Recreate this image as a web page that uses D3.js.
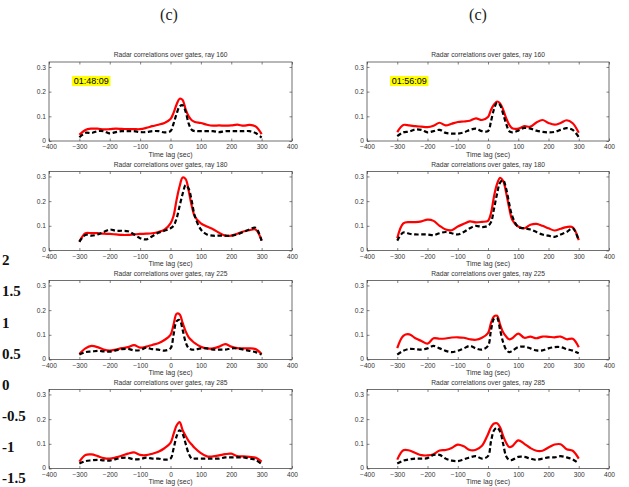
<!DOCTYPE html>
<html>
<head>
<meta charset="utf-8">
<script src="https://cdn.jsdelivr.net/npm/d3@7"></script>
<style>
  body { margin: 0; background: #fff; }
  svg { display: block; }
</style>
</head>
<body>
<div id="frame1"></div>
<script>
// lags (sec) shared by every curve
const lags = [-300, -280, -260, -240, -220, -200, -180, -160, -140, -120, -100, -80, -60, -40, -20,
              0, 10, 20, 30, 40, 50, 60, 70, 80, 100, 120, 140, 160, 180, 200, 220, 240, 260, 280, 300];

// left column (01:48:09)
const red160a = [.025,.045,.05,.05,.047,.048,.05,.049,.048,.048,.048,.053,.06,.066,.073,.089,.114,.148,.171,.166,.127,.1,.084,.077,.073,.066,.062,.063,.062,.063,.066,.062,.065,.059,.028];
const blk160a = [.015,.033,.032,.04,.04,.031,.036,.04,.04,.04,.036,.036,.04,.04,.035,.04,.07,.11,.14,.145,.118,.07,.045,.04,.04,.04,.04,.036,.04,.04,.04,.04,.04,.032,.014];
const red180a = [.036,.07,.07,.07,.068,.067,.065,.063,.063,.065,.067,.068,.07,.075,.084,.11,.14,.205,.26,.296,.289,.241,.18,.138,.11,.097,.086,.072,.06,.06,.068,.077,.082,.085,.04];
const blk180a = [.035,.063,.06,.065,.075,.085,.08,.08,.078,.065,.05,.045,.058,.072,.08,.09,.1,.13,.18,.23,.265,.25,.2,.14,.085,.065,.06,.06,.06,.06,.065,.075,.085,.092,.04];
const red225a = [.022,.045,.055,.05,.04,.036,.04,.046,.05,.058,.048,.052,.059,.066,.079,.1,.141,.185,.183,.148,.114,.09,.077,.066,.052,.045,.045,.052,.062,.052,.046,.045,.045,.042,.022];
const blk225a = [.02,.03,.032,.035,.033,.032,.037,.042,.043,.037,.038,.048,.042,.04,.036,.045,.1,.155,.16,.12,.07,.045,.04,.04,.045,.045,.04,.04,.04,.045,.045,.04,.035,.03,.02];
const red285a = [.028,.055,.057,.05,.042,.04,.045,.052,.06,.065,.055,.054,.06,.068,.082,.104,.139,.174,.188,.155,.132,.111,.097,.083,.062,.049,.049,.053,.058,.06,.05,.049,.047,.044,.028];
const blk285a = [.02,.03,.033,.035,.033,.032,.038,.043,.043,.037,.038,.044,.04,.04,.036,.04,.08,.13,.155,.14,.1,.06,.04,.04,.04,.04,.04,.04,.045,.045,.045,.045,.04,.035,.018];

// right column (01:56:09)
const red160b = [.036,.065,.063,.06,.058,.056,.062,.074,.063,.07,.077,.079,.082,.092,.085,.097,.127,.148,.16,.152,.127,.093,.066,.052,.05,.06,.058,.075,.085,.073,.066,.073,.084,.072,.033];
const blk160b = [.02,.035,.038,.047,.045,.035,.04,.045,.033,.03,.03,.035,.045,.05,.04,.04,.08,.13,.155,.145,.11,.07,.04,.035,.042,.053,.05,.042,.037,.035,.037,.045,.052,.045,.016];
const red180b = [.05,.11,.115,.115,.118,.125,.12,.1,.085,.082,.097,.108,.118,.114,.116,.12,.152,.22,.27,.294,.282,.234,.173,.125,.097,.09,.104,.108,.1,.09,.081,.088,.095,.094,.042];
const blk180b = [.04,.073,.068,.065,.065,.065,.062,.07,.075,.07,.065,.075,.09,.1,.095,.1,.115,.17,.23,.275,.285,.25,.19,.14,.095,.09,.085,.075,.065,.06,.055,.065,.075,.09,.04];
const red225b = [.046,.096,.102,.086,.075,.064,.086,.084,.085,.089,.09,.088,.082,.08,.088,.107,.148,.175,.177,.141,.11,.093,.082,.086,.105,.088,.093,.086,.093,.092,.09,.093,.082,.084,.05];
const blk225b = [.02,.035,.043,.042,.04,.045,.055,.045,.035,.03,.035,.045,.055,.045,.04,.055,.12,.165,.168,.12,.07,.04,.03,.035,.05,.052,.045,.037,.037,.045,.05,.05,.042,.036,.025];
const red285b = [.036,.074,.073,.063,.054,.053,.058,.073,.075,.083,.097,.09,.075,.076,.092,.139,.167,.182,.183,.167,.132,.104,.087,.09,.114,.1,.083,.072,.072,.085,.097,.098,.078,.072,.04];
const blk285b = [.02,.032,.037,.04,.04,.042,.055,.055,.04,.032,.03,.037,.045,.05,.04,.05,.11,.155,.165,.15,.1,.05,.035,.035,.047,.047,.04,.035,.04,.045,.045,.05,.045,.037,.02];

const rays = [160, 180, 225, 285];
const times = ["01:48:09", "01:56:09"];
const xTicks = [-400, -300, -200, -100, 0, 100, 200, 300, 400];
const yTicks = [0, 0.1, 0.2, 0.3];
const sideLabels = [2, 1.5, 1, 0.5, 0, -0.5, -1, -1.5];

const curves = [
  [[red160a, blk160a], [red180a, blk180a], [red225a, blk225a], [red285a, blk285a]],
  [[red160b, blk160b], [red180b, blk180b], [red225b, blk225b], [red285b, blk285b]]
];

const W = 629, H = 487;
const colX = [[49, 292], [367, 609]];
const rowBottom = [141, 250.5, 359.5, 468.5];
const panelH = 79;

const svg = d3.select("#frame1")
  .append("svg")
  .attr("width", W)
  .attr("height", H)
  .attr("font-family", "'Liberation Sans', Arial, sans-serif");

// the (c) headers
svg.selectAll("text.hdr")
  .data(colX)
  .join("text")
    .attr("class", "hdr")
    .attr("x", (d, i) => i === 0 ? 169 : 478)
    .attr("y", 20)
    .attr("text-anchor", "middle")
    .attr("font-family", "'Liberation Serif', 'Times New Roman', serif")
    .attr("font-size", 16)
    .attr("fill", "#222")
    .text("(c)");

// stray axis labels on the far left
const side = d3.scaleLinear().domain([2, -1.5]).range([260, 478]);
svg.selectAll("text.side")
  .data(sideLabels)
  .join("text")
    .attr("class", "side")
    .attr("x", 2)
    .attr("y", d => side(d))
    .attr("dy", "0.35em")
    .attr("font-family", "'Liberation Serif', 'Times New Roman', serif")
    .attr("font-weight", "bold")
    .attr("font-size", 15)
    .attr("fill", "#111")
    .text(d => String(d));

const line = (x, y) => d3.line()
  .x((d, i) => x(lags[i]))
  .y(d => y(d))
  .curve(d3.curveCatmullRom);

colX.forEach((cx, c) => {
  const x = d3.scaleLinear().domain([-400, 400]).range(cx);
  rowBottom.forEach((bottom, r) => {
    const y = d3.scaleLinear().domain([0, 0.32]).range([bottom, bottom - panelH]);
    const g = svg.append("g");
    const top = bottom - panelH;

    // box
    g.append("rect")
      .attr("x", cx[0]).attr("y", top)
      .attr("width", cx[1] - cx[0]).attr("height", panelH)
      .attr("fill", "none").attr("stroke", "#333").attr("stroke-width", 0.7);

    // axes with inward ticks
    const fmtY = d => d === 0 ? "0" : d3.format(".1f")(d);
    const bx = g.append("g").attr("transform", `translate(0,${bottom})`)
      .call(d3.axisBottom(x).tickValues(xTicks).tickSize(-2.5).tickSizeOuter(0).tickPadding(3.5));
    const tx = g.append("g").attr("transform", `translate(0,${top})`)
      .call(d3.axisTop(x).tickValues(xTicks).tickSize(-2.5).tickSizeOuter(0).tickFormat(""));
    const ly = g.append("g").attr("transform", `translate(${cx[0]},0)`)
      .call(d3.axisLeft(y).tickValues(yTicks).tickFormat(fmtY).tickSize(-2.5).tickSizeOuter(0).tickPadding(3));
    const ry = g.append("g").attr("transform", `translate(${cx[1]},0)`)
      .call(d3.axisRight(y).tickValues(yTicks).tickFormat("").tickSize(-2.5).tickSizeOuter(0));
    [bx, tx, ly, ry].forEach(a => {
      a.select(".domain").remove();
      a.selectAll("line").attr("stroke", "#333").attr("stroke-width", 0.6);
      a.selectAll("text").attr("font-size", 6.6).attr("fill", "#333").attr("font-family", null);
    });
    // lift the zero label a touch so it clears the -400 label
    ly.selectAll(".tick text").filter(d => d === 0).attr("dy", "0.2em");

    // title and x label
    g.append("text")
      .attr("x", (cx[0] + cx[1]) / 2).attr("y", top - 5)
      .attr("text-anchor", "middle").attr("font-size", 6.7).attr("fill", "#333")
      .text(`Radar correlations over gates, ray ${rays[r]}`);
    g.append("text")
      .attr("x", (cx[0] + cx[1]) / 2).attr("y", bottom + 15.5)
      .attr("text-anchor", "middle").attr("font-size", 7).attr("fill", "#333")
      .text("Time lag (sec)");

    // curves
    const [red, blk] = curves[c][r];
    g.append("path")
      .attr("d", line(x, y)(red))
      .attr("fill", "none").attr("stroke", "#ff0000").attr("stroke-width", 2.2)
      .attr("stroke-linejoin", "round");
    g.append("path")
      .attr("d", line(x, y)(blk))
      .attr("fill", "none").attr("stroke", "#000").attr("stroke-width", 2.2)
      .attr("stroke-dasharray", "4.5,2.6");

    // time stamp in the first row
    if (r === 0) {
      g.append("rect")
        .attr("x", cx[0] + 23).attr("y", top + 14)
        .attr("width", 38.5).attr("height", 10)
        .attr("fill", "#ffff00");
      g.append("text")
        .attr("x", cx[0] + 42.2).attr("y", top + 22.3)
        .attr("text-anchor", "middle").attr("font-size", 9).attr("fill", "#000")
        .text(times[c]);
    }
  });
});
</script>
</body>
</html>
